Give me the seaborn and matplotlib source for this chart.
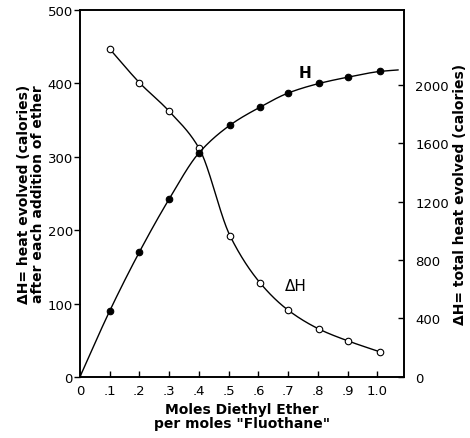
import numpy as np
import matplotlib
matplotlib.use("Agg")
import matplotlib.pyplot as plt
import seaborn as sns

# Data
x_dh = [0.1, 0.2, 0.3, 0.4, 0.505, 0.606, 0.70, 0.805, 0.902, 1.01]
dh_vals = [447, 401, 362, 312, 192, 128, 91, 65, 49, 34]

x_h = [0.0, 0.1, 0.2, 0.3, 0.4, 0.505, 0.606, 0.70, 0.805, 0.902, 1.01]
h_vals = [0, 451, 855, 1217, 1532, 1723, 1846, 1942, 2008, 2051, 2090]
h_tail_x = [1.07]
h_tail_y = [2100]

xticks = [0, 0.1, 0.2, 0.3, 0.4, 0.5, 0.6, 0.7, 0.8, 0.9, 1.0]
xticklabels = ["0", ".1", ".2", ".3", ".4", ".5", ".6", ".7", ".8", ".9", "1.0"]
left_ticks = [0, 100, 200, 300, 400, 500]
right_ticks = [0, 400, 800, 1200, 1600, 2000]


def pchip(xs, ys, n=40):
    x = np.asarray(xs, float)
    y = np.asarray(ys, float)
    h = np.diff(x)
    d = np.diff(y) / h
    m = np.zeros_like(y)
    for k in range(1, len(x) - 1):
        if d[k - 1] * d[k] > 0:
            w1 = 2 * h[k] + h[k - 1]
            w2 = h[k] + 2 * h[k - 1]
            m[k] = (w1 + w2) / (w1 / d[k - 1] + w2 / d[k])
    m[0] = d[0]
    m[-1] = d[-1]
    X, Y = [], []
    for k in range(len(x) - 1):
        t = np.linspace(0, 1, n)
        h00 = 2 * t**3 - 3 * t**2 + 1
        h10 = t**3 - 2 * t**2 + t
        h01 = -2 * t**3 + 3 * t**2
        h11 = t**3 - t**2
        X.append(x[k] + t * h[k])
        Y.append(h00 * y[k] + h10 * h[k] * m[k] + h01 * y[k + 1] + h11 * h[k] * m[k + 1])
    return np.concatenate(X), np.concatenate(Y)


sns.set_style("ticks")
plt.rcParams['font.family'] = ['DejaVu Sans']
plt.rcParams['text.color'] = 'black'
plt.rcParams['xtick.color'] = 'black'
plt.rcParams['ytick.color'] = 'black'
plt.rcParams['axes.labelcolor'] = 'black'

fig = plt.figure(figsize=(4.70, 4.39), dpi=100)
ax = fig.add_axes([0.170, 0.139, 0.690, 0.836])
ax2 = ax.twinx()

sx, sy = pchip(x_dh, dh_vals)
ax.plot(sx, sy, color="black", lw=1.0, zorder=2)
sns.scatterplot(x=x_dh, y=dh_vals, ax=ax, marker="o", s=22, facecolor="white",
                edgecolor="black", linewidth=0.8, zorder=3)

sx2, sy2 = pchip(x_h + h_tail_x, h_vals + h_tail_y)
ax2.plot(sx2, sy2, color="black", lw=1.0, zorder=2)
sns.scatterplot(x=x_h[1:], y=h_vals[1:], ax=ax2, marker="o", s=22, color="black",
                edgecolor="black", linewidth=0.8, zorder=3)

ax.set_xlim(0, 1.09)
ax.set_ylim(0, 500)
ax2.set_ylim(0, 2510)

ax.set_xticks(xticks)
ax.set_xticklabels(xticklabels, fontsize=9.5)
ax.set_yticks(left_ticks)
ax.set_yticklabels([str(v) for v in left_ticks], fontsize=9.5)
ax2.set_yticks(right_ticks)
ax2.set_yticklabels([str(v) for v in right_ticks], fontsize=9.5)

ax.tick_params(axis="x", direction="in", length=4, width=1, pad=5)
ax.tick_params(axis="y", direction="out", length=4, width=1, pad=1)
ax2.tick_params(axis="y", direction="in", length=4, width=1, pad=8)

for a in (ax, ax2):
    for s in a.spines.values():
        s.set_visible(True)
        s.set_linewidth(1.2)
        s.set_color("black")

ax.set_xlabel("Moles Diethyl Ether\nper moles \"Fluothane\"", fontsize=10,
              fontweight="bold", linespacing=1.0, labelpad=4)
ax.set_ylabel("\u0394H= heat evolved (calories)\nafter each addition of ether",
              fontsize=10, fontweight="bold", linespacing=1.0, labelpad=2)
ax2.set_ylabel("\u0394H= total heat evolved (calories)", fontsize=10,
               fontweight="bold", rotation=90, labelpad=3)

ax2.text(0.755, 2085, "H", fontsize=11, fontweight="bold", ha="center", va="center")
ax.text(0.725, 125, "\u0394H", fontsize=11, ha="center", va="center")

fig.savefig("out.png", dpi=100)
